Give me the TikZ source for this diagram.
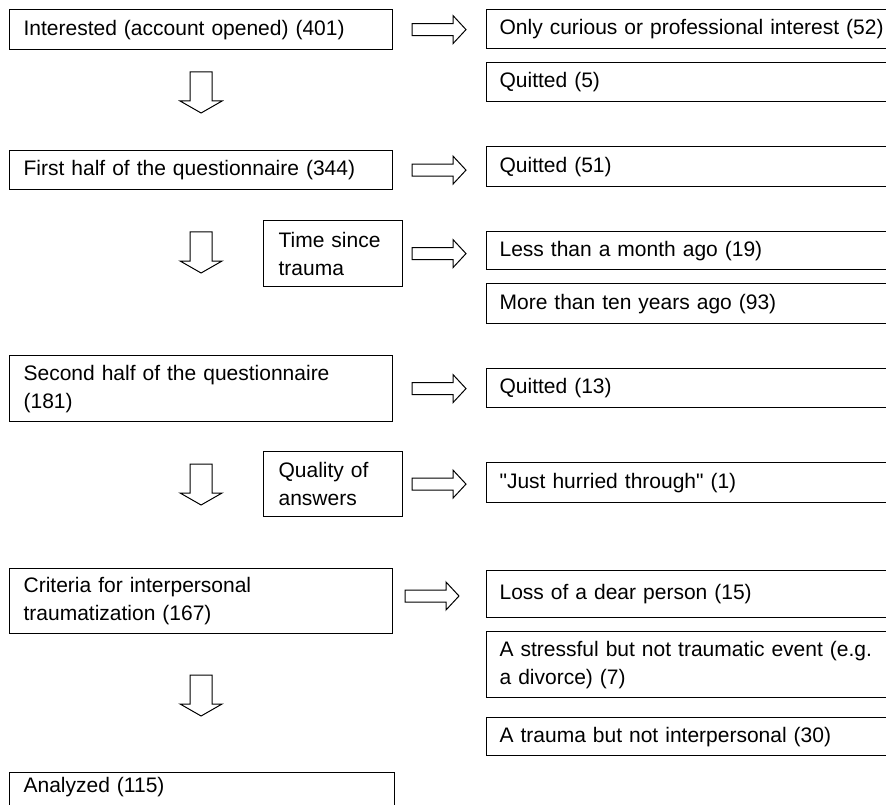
\documentclass[tikz,border=0pt]{standalone}
\usepackage{fontspec}
\setmainfont{Liberation Sans}
\newcommand\boxfont{\fontsize{21}{28}\selectfont}

\tikzset{
  stagebox/.style={draw, line width=1.2pt, anchor=north west, inner xsep=14pt, inner ysep=0pt, align=left, font=\boxfont},
  dropbox/.style={stagebox, inner xsep=13pt, text width=388pt},
  rightarr/.pic={\draw[line width=1pt] (0,-6) -- (41,-6) -- (41,-14) -- (54,0) -- (41,14) -- (41,6) -- (0,6) -- cycle;},
  downarr/.pic={\draw[line width=1pt] (-11,0) -- (11,0) -- (11,29) -- (21,29) -- (0,41) -- (-21,29) -- (-11,29) -- cycle;}
}

\begin{document}
\begin{tikzpicture}[x=1pt,y=-1pt]
\useasboundingbox (0,0) rectangle (886,805);
\clip (0,0) rectangle (886,805);

% main column
\node[stagebox, text width=355pt, minimum height=40pt] (A) at (9,9) {Interested (account opened) (401)};
\node[stagebox, text width=355pt, minimum height=39pt] (B) at (9,150) {First half of the questionnaire (344)};
\node[stagebox, text width=355pt, minimum height=66pt] (C) at (9,355) {Second half of the questionnaire\\(181)};
\node[stagebox, text width=355pt, minimum height=65pt] (D) at (9,568) {Criteria for interpersonal\\traumatization (167)};
\node[stagebox, text width=357pt, text height=20pt, text depth=40pt] (E) at (9,772) {Analyzed (115)};

% checks
\node[stagebox, inner xsep=15pt, text width=109pt, minimum height=66pt] (T) at (263,220) {Time since\\trauma};
\node[stagebox, inner xsep=15pt, text width=109pt, minimum height=65pt] (Q) at (263,451) {Quality of\\answers};

% dropped out
\node[dropbox, minimum height=39pt] (R1) at (486,9) {Only curious or professional interest (52)};
\node[dropbox, minimum height=39pt] (R2) at (486,62) {Quitted (5)};
\node[dropbox, minimum height=40pt] (R3) at (486,146) {Quitted (51)};
\node[dropbox, minimum height=38pt] (R4) at (486,231) {Less than a month ago (19)};
\node[dropbox, minimum height=40pt] (R5) at (486,283) {More than ten years ago (93)};
\node[dropbox, minimum height=39pt] (R6) at (486,368) {Quitted (13)};
\node[dropbox, minimum height=40pt] (R7) at (486,462) {\textquotedbl Just hurried through\textquotedbl{} (1)};
\node[dropbox, minimum height=47pt] (R8) at (486,570) {Loss of a dear person (15)};
\node[dropbox, minimum height=66pt] (R9) at (486,631) {A stressful but not traumatic event (e.g.\\a divorce) (7)};
\node[dropbox, minimum height=38pt] (R10) at (486,717) {A trauma but not interpersonal (30)};

% block arrows
\pic at (A.south |- 0,72) {downarr};
\pic at (B.south |- 0,232) {downarr};
\pic at (C.south |- 0,464) {downarr};
\pic at (D.south |- 0,675) {downarr};

\pic at (412,0 |- A.center) {rightarr};
\pic at (412,0 |- B.center) {rightarr};
\pic at (412,0 |- T.center) {rightarr};
\pic at (412,0 |- C.center) {rightarr};
\pic at (412,0 |- Q.center) {rightarr};
\pic at (405,596) {rightarr};
\end{tikzpicture}
\end{document}
